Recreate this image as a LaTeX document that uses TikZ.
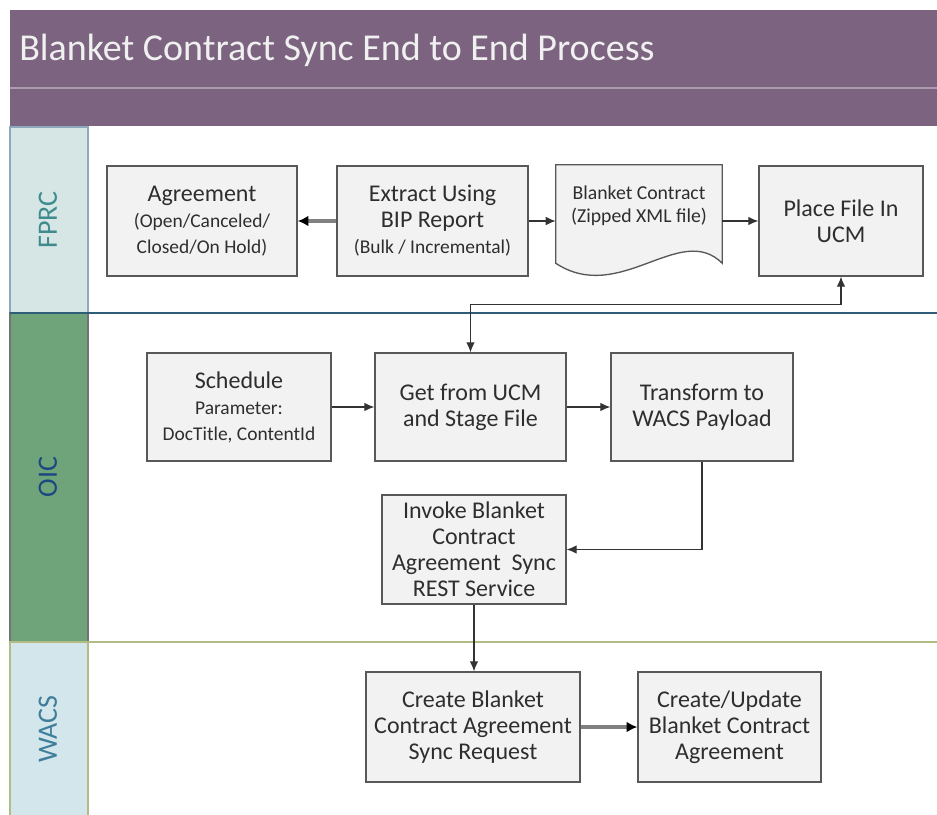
\documentclass[tikz,border=0pt]{standalone}
\usepackage{fontspec}
\setmainfont{Carlito}
\usepackage{tikz}
\usetikzlibrary{arrows.meta,positioning,calc}
\definecolor{hdrpurple}{RGB}{124,100,128}
\definecolor{hdrline}{RGB}{172,154,174}
\definecolor{fprcfill}{RGB}{213,230,229}
\definecolor{fprcedge}{RGB}{140,170,188}
\definecolor{fprctext}{RGB}{62,138,140}
\definecolor{oicfill}{RGB}{111,164,123}
\definecolor{oictext}{RGB}{28,72,130}
\definecolor{wacsfill}{RGB}{210,230,236}
\definecolor{wacstext}{RGB}{62,126,154}
\definecolor{boxfill}{RGB}{242,242,242}
\definecolor{boxline}{RGB}{88,88,88}
\definecolor{sepblue}{RGB}{47,93,120}
\definecolor{sepolive}{RGB}{178,188,132}
\newcommand{\subtxt}{\fontsize{14.6}{19.5}\selectfont}

\begin{document}
\begin{tikzpicture}[x=0.75pt,y=-0.75pt,
	procbox/.style={draw=boxline,fill=boxfill,line width=1pt,inner sep=0pt,align=center,
		text=black!82,font=\fontsize{18}{19.5}\selectfont},
	flow/.style={draw=black!80,line width=0.9pt,-{Latex[length=7.5pt,width=6.5pt]}},
	thickflow/.style={draw=black!50,line width=2.4pt,-{Latex[length=8pt,width=8pt,black]}},
	lanelabel/.style={rotate=90,inner sep=0pt,font=\fontsize{21}{21}\selectfont}]
	\useasboundingbox (0,0) rectangle (937,814);
	\fill[hdrpurple] (10,10) rectangle (937,126);
	\draw[hdrline,line width=1.5pt] (10,88) -- (937,88);
	\node[anchor=base west,inner sep=0pt,text=white!94!black,font=\fontsize{28.5}{28.5}\selectfont]
		(title) at (19,60) {Blanket Contract Sync End to End Process};
	\filldraw[fill=fprcfill,draw=fprcedge,line width=0.8pt] (10,127) rectangle (88,313);
	\filldraw[fill=oicfill,draw=black!55,line width=0.8pt] (10,313) rectangle (88,642);
	\filldraw[fill=wacsfill,draw=sepolive,line width=0.8pt] (10,642) rectangle (88,820);
	\draw[sepblue,line width=1.5pt] (10,313) -- (937,313);
	\draw[sepolive,line width=1.8pt] (10,642) -- (937,642);
	\node[lanelabel,text=fprctext] (fprc) at (48,220) {FPRC};
	\node[lanelabel,text=oictext] (oic) at (48,477) {OIC};
	\node[lanelabel,text=wacstext] (wacs) at (48,729) {WACS};

	\node[procbox,minimum width=142.5pt,minimum height=82.5pt] (agree) at (202,221)
		{Agreement\\\subtxt(Open/Canceled/\\\subtxt Closed/On Hold)};
	\node[procbox,minimum width=143.25pt,minimum height=82.5pt] (extract) at (432.5,221)
		{Extract Using\\BIP Report\\\subtxt(Bulk / Incremental)};
	\node[minimum width=124.5pt,minimum height=73.5pt,inner sep=0pt] (blanket) at (639,214) {};
	\draw[draw=boxline,fill=boxfill,line width=1pt] (blanket.north west) -- (blanket.north east)
		-- (blanket.south east) .. controls ($(blanket.south east)+(-42,-42)$)
		and ($(blanket.south west)+(64,42)$) .. (blanket.south west) -- cycle;
	\node[align=center,inner sep=0pt,text=black!82,font=\fontsize{14.8}{17.3}\selectfont]
		(blankettxt) at ([yshift=6pt]blanket.center) {Blanket Contract\\(Zipped XML file)};
	\node[procbox,minimum width=123pt,minimum height=82.5pt] (place) at (841,221)
		{Place File In\\UCM};

	\node[procbox,minimum width=138pt,minimum height=81pt] (sched) at (239,407)
		{Schedule\\\subtxt Parameter:\\\subtxt DocTitle, ContentId};
	\node[procbox,minimum width=143.25pt,minimum height=81pt] (getucm) at (470.5,407)
		{Get from UCM\\and Stage File};
	\node[procbox,minimum width=136.5pt,minimum height=81pt] (transform) at (702,407)
		{Transform to\\WACS Payload};
	\node[procbox,minimum width=138pt,minimum height=81.75pt] (invoke) at (474,549.5)
		{Invoke Blanket\\Contract\\Agreement~~Sync\\REST Service};

	\node[procbox,minimum width=160.5pt,minimum height=82.5pt] (createreq) at (473,727)
		{Create Blanket\\Contract Agreement\\Sync Request};
	\node[procbox,minimum width=137.25pt,minimum height=82.5pt] (update) at (729.5,727)
		{Create/Update\\Blanket Contract\\Agreement};

	\draw[thickflow] (extract) -- (agree);
	\draw[flow] (extract.east) -- (extract.east -| blanket.west);
	\draw[flow] (place.west -| blanket.east) -- (place.west);
	\draw[flow,{Latex[length=7.5pt,width=6.5pt]}-{Latex[length=7.5pt,width=6.5pt]}]
		(getucm.north) -- ++(0,-48) -| (place.south);
	\draw[flow] (sched) -- (getucm);
	\draw[flow] (getucm) -- (transform);
	\draw[flow] (transform.south) |- (invoke.east);
	\draw[flow] (invoke.south) -- (invoke.south |- createreq.north);
	\draw[thickflow] (createreq) -- (update);
\end{tikzpicture}
\end{document}
